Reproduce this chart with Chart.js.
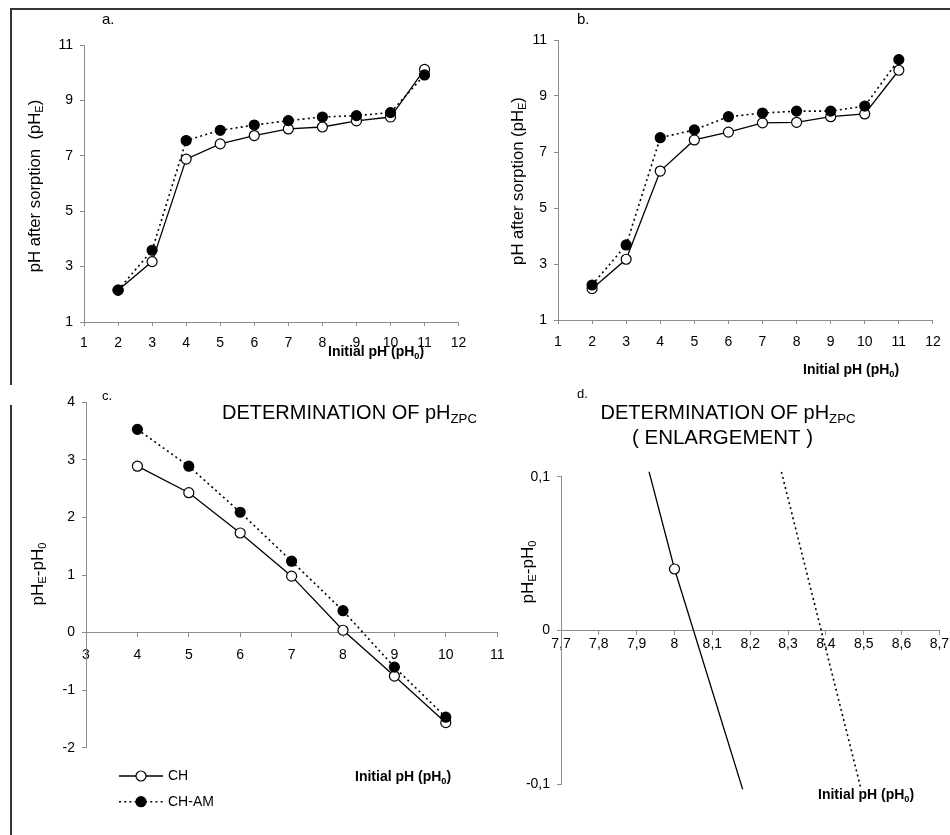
<!DOCTYPE html>
<html><head><meta charset="utf-8">
<script src="https://cdn.jsdelivr.net/npm/chart.js@4"></script>
<style>
body{margin:0;background:#fff;width:950px;height:835px;overflow:hidden;position:relative}
canvas{position:absolute}
.frame{position:absolute;border-color:#363636;border-style:solid;border-width:0}
</style></head><body>
<div class="frame" style="left:10px;top:8px;width:940px;height:375px;border-top-width:2px;border-left-width:2px"></div>
<div class="frame" style="left:10px;top:405px;width:0;height:430px;border-left-width:2px"></div>
<canvas id="ca" width="475" height="390" style="left:0;top:0;width:475px;height:390px"></canvas>
<canvas id="cb" width="475" height="380" style="left:475px;top:0;width:475px;height:380px"></canvas>
<canvas id="cc" width="520" height="455" style="left:0;top:380px;width:520px;height:455px"></canvas>
<canvas id="cd" width="475" height="455" style="left:475px;top:380px;width:475px;height:455px"></canvas>
<script>
// ---------- data ----------
const phInitial = [2, 3, 4, 5, 6, 7, 8, 9, 10, 11];
const chA   = [2.15, 3.18, 6.88, 7.43, 7.73, 7.97, 8.04, 8.26, 8.40, 10.12];
const chamA = [2.15, 3.59, 7.55, 7.92, 8.11, 8.27, 8.40, 8.45, 8.56, 9.92];
const chB   = [2.12, 3.17, 6.32, 7.43, 7.71, 8.04, 8.06, 8.26, 8.36, 9.92];
const chamB = [2.25, 3.68, 7.51, 7.79, 8.26, 8.39, 8.46, 8.46, 8.64, 10.30];
const phInitialC = [4, 5, 6, 7, 8, 9, 10];
const chC   = [2.89, 2.43, 1.73, 0.98, 0.04, -0.755, -1.565];
const chamC = [3.53, 2.89, 2.09, 1.24, 0.38, -0.60, -1.47];
const seriesNames = ['CH', 'CH-AM'];
const ticksAB = { xMin: 1, xMax: 12, xStep: 1, yMin: 1, yMax: 11, yStep: 2 };
const ticksC  = { xMin: 3, xMax: 11, xStep: 1, yMin: -2, yMax: 4, yStep: 1 };
const ticksD  = { xMin: 7.7, xMax: 8.7, xStep: 0.1, yMin: -0.1, yMax: 0.1, yStep: 0.1 };

// ---------- helpers ----------
const FONT = '"Liberation Sans", Arial, sans-serif';
const AXIS = '#8c8c8c';
const TICK_SIZE = 14;
function pts(xs, ys) { return xs.map((x, i) => ({ x: x, y: ys[i] })); }

function drawRich(ctx, parts, x, y, o) {
  const f = o.size, sf = Math.round(f * 0.66 * 10) / 10;
  const w = o.bold ? 'bold ' : '';
  const fm = w + f + 'px ' + FONT, fs = w + sf + 'px ' + FONT;
  let total = 0;
  parts.forEach(p => { ctx.font = p[1] ? fs : fm; total += ctx.measureText(p[0]).width; });
  ctx.save();
  ctx.translate(x, y);
  if (o.rotate) ctx.rotate(-Math.PI / 2);
  let cx = o.align === 'center' ? -total / 2 : (o.align === 'right' ? -total : 0);
  ctx.fillStyle = '#000';
  ctx.textBaseline = 'middle';
  ctx.textAlign = 'left';
  parts.forEach(p => {
    ctx.font = p[1] ? fs : fm;
    ctx.fillText(p[0], cx, p[1] ? f * 0.3 : 0);
    cx += ctx.measureText(p[0]).width;
  });
  ctx.restore();
}

function commaFmt(v) {
  const r = Math.round(v * 10) / 10;
  return Number.isInteger(r) ? String(r) : r.toFixed(1).replace('.', ',');
}

function datasets(xs, ch, cham, clip) {
  return [
    { label: seriesNames[0], data: pts(xs, ch), showLine: true, borderColor: '#000', borderWidth: 1.3,
      pointRadius: 5, pointHoverRadius: 5, pointBackgroundColor: '#fff', pointBorderColor: '#000',
      pointBorderWidth: 1.2, order: 1, clip: clip },
    { label: seriesNames[1], data: pts(xs, cham), showLine: true, borderColor: '#000', borderWidth: 1.6,
      borderDash: [2, 3.2], pointRadius: 5, pointHoverRadius: 5, pointBackgroundColor: '#000',
      pointBorderColor: '#000', pointBorderWidth: 1.2, order: 0, clip: clip }
  ];
}

function makeChart(id, c) {
  return new Chart(document.getElementById(id), {
    type: 'scatter',
    data: { datasets: datasets(c.xs, c.ch, c.cham, c.clip) },
    options: {
      responsive: false, animation: false, events: [], devicePixelRatio: 1,
      layout: { padding: c.padding },
      plugins: { legend: { display: false }, tooltip: { enabled: false } },
      scales: {
        x: {
          type: 'linear', min: c.t.xMin, max: c.t.xMax, position: c.xPos,
          afterFit: s => { s.height = c.xH; },
          ticks: { stepSize: c.t.xStep, autoSkip: false, color: '#000', padding: c.xPad, maxRotation: 0,
                   font: { family: FONT, size: TICK_SIZE }, callback: c.fmt },
          grid: { drawOnChartArea: false, drawTicks: true, tickLength: 4, color: AXIS },
          border: { color: AXIS, width: 1 }
        },
        y: {
          type: 'linear', min: c.t.yMin, max: c.t.yMax,
          afterFit: s => { s.width = c.yW; },
          ticks: { stepSize: c.t.yStep, autoSkip: false, color: '#000', padding: 7,
                   font: { family: FONT, size: TICK_SIZE }, callback: c.fmt },
          grid: { drawOnChartArea: false, drawTicks: true, tickLength: 4, color: AXIS },
          border: { color: AXIS, width: 1 }
        }
      }
    },
    plugins: [{ id: 'decor_' + id, afterDraw(chart) { c.decor(chart.ctx, chart); } }]
  });
}

const xTitle = [['Initial pH (pH', 0], ['0', 1], [')', 0]];
const dTitle = [['pH', 0], ['E', 1], ['-pH', 0], ['0', 1]];
const zpcTitle = [['DETERMINATION OF pH', 0], ['ZPC', 1]];
const defFmt = v => String(v);

// ---------- panel a ----------
makeChart('ca', {
  xs: phInitial, ch: chA, cham: chamA, t: ticksAB, clip: false, fmt: defFmt,
  padding: { left: 0, top: 45, right: 12, bottom: 0 }, yW: 84, xH: 68, xPad: 8.6, xPos: 'bottom',
  decor(ctx) {
    drawRich(ctx, [['a.', 0]], 102, 20, { size: 15 });
    drawRich(ctx, [['pH after sorption  (pH', 0], ['E', 1], [')', 0]], 35, 186, { size: 16.7, rotate: true, align: 'center' });
    drawRich(ctx, xTitle, 328, 352, { size: 14, bold: true });
  }
});

// ---------- panel b ----------
makeChart('cb', {
  xs: phInitial, ch: chB, cham: chamB, t: ticksAB, clip: false, fmt: defFmt,
  padding: { left: 0, top: 40, right: 12, bottom: 0 }, yW: 83, xH: 60, xPad: 9.3, xPos: 'bottom',
  decor(ctx) {
    drawRich(ctx, [['b.', 0]], 102, 20, { size: 15 });
    drawRich(ctx, [['pH after sorption (pH', 0], ['E', 1], [')', 0]], 43, 181, { size: 16.7, rotate: true, align: 'center' });
    drawRich(ctx, xTitle, 328, 370, { size: 14, bold: true });
  }
});

// ---------- panel c ----------
makeChart('cc', {
  xs: phInitialC, ch: chC, cham: chamC, t: ticksC, clip: false, fmt: defFmt,
  padding: { left: 0, top: 22.3, right: 22.8, bottom: 87.3 }, yW: 86, xH: 0, xPad: 10.3, xPos: { y: 0 },
  decor(ctx, chart) {
    drawRich(ctx, [['c.', 0]], 102, 16, { size: 13 });
    drawRich(ctx, zpcTitle, 222, 33, { size: 20 });
    drawRich(ctx, dTitle, 38, 194, { size: 17, rotate: true, align: 'center' });
    drawRich(ctx, xTitle, 355, 397, { size: 14, bold: true });
    // legend built from the datasets' own styles
    const rows = [396, 421.7];
    chart.data.datasets.forEach((ds, i) => {
      const y = rows[i];
      ctx.save();
      ctx.strokeStyle = ds.borderColor; ctx.lineWidth = ds.borderWidth;
      ctx.setLineDash(ds.borderDash || []);
      ctx.beginPath(); ctx.moveTo(119, y); ctx.lineTo(163, y); ctx.stroke();
      ctx.setLineDash([]);
      ctx.beginPath(); ctx.arc(141, y, ds.pointRadius, 0, Math.PI * 2);
      ctx.fillStyle = ds.pointBackgroundColor; ctx.fill();
      ctx.lineWidth = ds.pointBorderWidth; ctx.strokeStyle = ds.pointBorderColor; ctx.stroke();
      ctx.restore();
      drawRich(ctx, [[ds.label, 0]], 168, y, { size: 14 });
    });
  }
});

// ---------- panel d (enlargement of c) ----------
makeChart('cd', {
  xs: phInitialC, ch: chC, cham: chamC, t: ticksD, clip: { left: 0, right: 0, top: 5, bottom: 5 }, fmt: commaFmt,
  padding: { left: 0, top: 96.7, right: 9, bottom: 50.7 }, yW: 86, xH: 0, xPad: 0.9, xPos: { y: 0 },
  decor(ctx) {
    drawRich(ctx, [['d.', 0]], 102, 14, { size: 13 });
    drawRich(ctx, zpcTitle, 253, 33, { size: 20, align: 'center' });
    drawRich(ctx, [['( ENLARGEMENT )', 0]], 247.5, 58.5, { size: 20.5, align: 'center' });
    drawRich(ctx, dTitle, 53, 192, { size: 17, rotate: true, align: 'center' });
    drawRich(ctx, xTitle, 343, 415, { size: 14, bold: true });
  }
});
</script>
</body></html>
